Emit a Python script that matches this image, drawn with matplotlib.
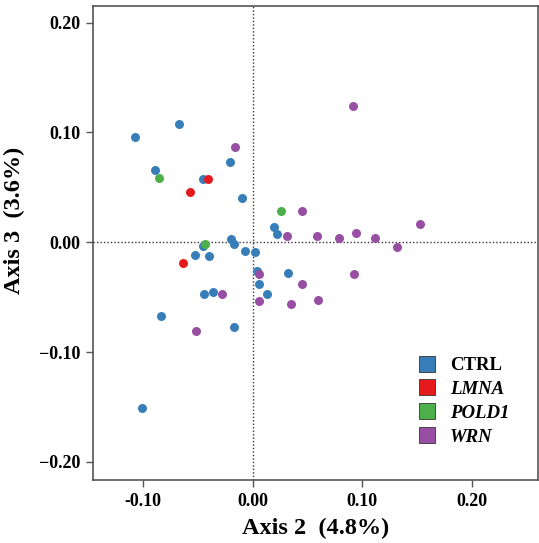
import matplotlib
matplotlib.use("Agg")
import matplotlib.pyplot as plt
from matplotlib.lines import Line2D

plt.rcParams['font.family'] = ['Liberation Serif', 'DejaVu Serif']

groups = ["CTRL", "LMNA", "POLD1", "WRN"]
colors = ["#377EB8", "#E41A1C", "#4DAF4A", "#984EA3"]

ctrl_x = [-0.107, -0.0667, -0.0202, -0.0889, -0.0454, -0.0093, 0.0193, 0.0223, -0.0199,
          -0.0169, -0.0454, -0.0071, 0.0023, -0.0527, -0.0394, 0.0041, 0.0327, 0.0062,
          0.0129, -0.0445, -0.0363, -0.0834, -0.0169, -0.1007]
ctrl_y = [0.0956, 0.1077, 0.0731, 0.0656, 0.058, 0.0406, 0.0137, 0.0078, 0.0033,
          -0.0018, -0.0034, -0.0077, -0.0086, -0.0118, -0.0128, -0.0261, -0.0281, -0.038,
          -0.0468, -0.0468, -0.045, -0.0671, -0.0771, -0.151]
lmna_x = [-0.0408, -0.0567, -0.0634]
lmna_y = [0.058, 0.0458, -0.0186]
pold1_x = [-0.0855, 0.0263, -0.043]
pold1_y = [0.0586, 0.0285, -0.0013]
wrn_x = [-0.016, 0.0916, 0.0451, 0.0314, 0.0588, 0.0786, 0.0944, 0.1117, 0.1314, 0.153,
         0.0062, 0.0928, 0.0451, 0.0062, 0.0348, 0.0597, -0.0278, -0.0515]
wrn_y = [0.0868, 0.1238, 0.0285, 0.006, 0.0055, 0.0039, 0.0082, 0.0039, -0.0046, 0.0167,
         -0.0291, -0.0286, -0.0383, -0.0535, -0.0559, -0.0528, -0.0468, -0.0808]

xticks = [-0.10, 0.00, 0.10, 0.20]
xticklabels = ["-0.10", "0.00", "0.10", "0.20"]
yticks = [-0.20, -0.10, 0.00, 0.10, 0.20]
yticklabels = ["\u22120.20", "\u22120.10", "0.00", "0.10", "0.20"]

W, H = 539, 543
fig = plt.figure(figsize=(W / 100, H / 100), dpi=100)
ax = fig.add_axes([93 / W, 1 - 480 / H, (538 - 93) / W, (480 - 6) / H])

series = [(ctrl_x, ctrl_y), (lmna_x, lmna_y), (pold1_x, pold1_y), (wrn_x, wrn_y)]
for (xs, ys), c in zip(series, colors):
    ax.scatter(xs, ys, s=42, color=c, linewidths=0, zorder=3)

ax.axhline(0, color="#333333", lw=1.0, ls=(0, (1, 1.5)), zorder=1)
ax.axvline(0, color="#333333", lw=1.0, ls=(0, (1, 1.5)), zorder=1)

ax.set_xlim(-0.1455, 0.2603)
ax.set_ylim(-0.2165, 0.2152)

ax.set_xticks(xticks)
ax.set_xticklabels(xticklabels)
ax.set_yticks(yticks)
ax.set_yticklabels(yticklabels)
ax.tick_params(direction="out", length=5, width=1, color="#555555",
               labelsize=13, pad=4)
for lab in ax.get_xticklabels() + ax.get_yticklabels():
    lab.set_fontweight("bold")
for sp in ax.spines.values():
    sp.set_color("#555555")
    sp.set_linewidth(1.2)

ax.set_xlabel("Axis 2  (4.8%)", fontsize=17.5, fontweight="bold", labelpad=6)
ax.set_ylabel("Axis 3  (3.6%)", fontsize=17.5, fontweight="bold")
ax.yaxis.set_label_coords(-(93 - 25) / (538 - 93), (480 - 220) / (480 - 6))

handles = [Line2D([0], [0], marker="s", ls="none", markersize=11,
                  markerfacecolor=c, markeredgecolor="#333333", markeredgewidth=0.6)
           for c in colors]
leg = ax.legend(handles, groups, loc="upper left",
                bbox_to_anchor=((418 - 93) / (538 - 93), (480 - 357) / (480 - 6)),
                frameon=False, handlelength=1.0, handletextpad=0.7,
                labelspacing=0.36, borderpad=0, borderaxespad=0,
                prop={"size": 13.5, "weight": "bold"})
texts = leg.get_texts()
for t in texts[1:]:
    t.set_fontstyle("italic")

fig.savefig("out.png", dpi=100)
